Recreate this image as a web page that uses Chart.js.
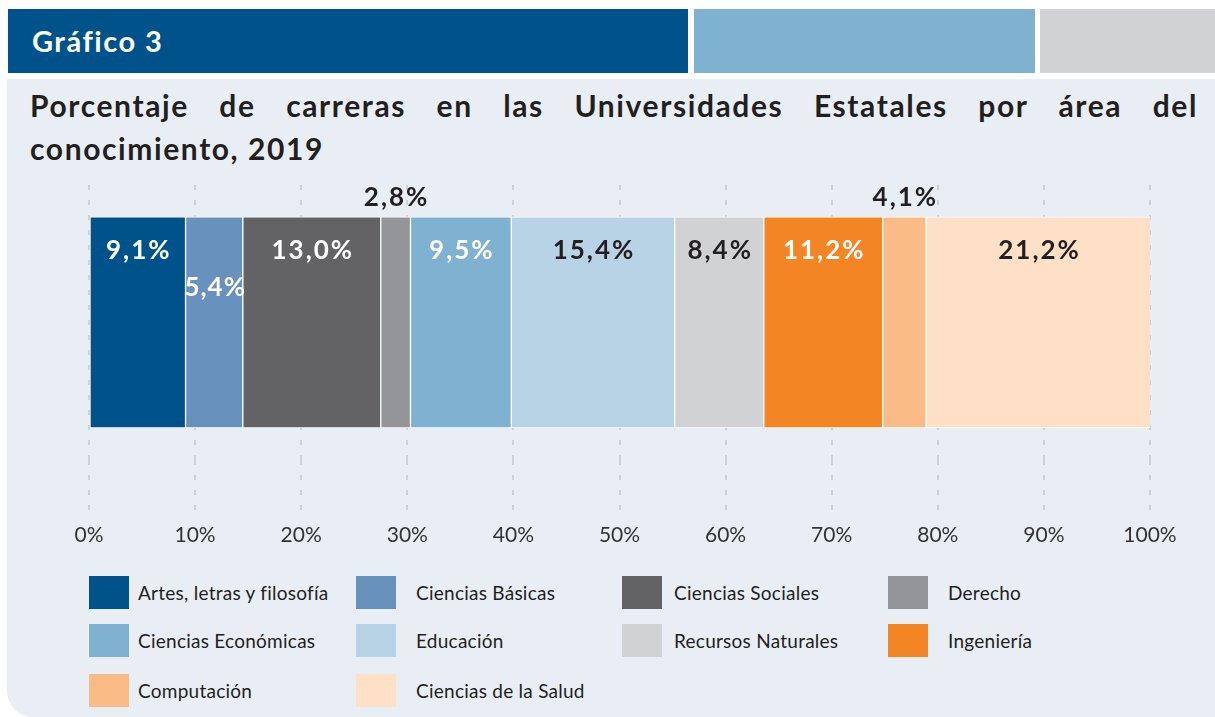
<!DOCTYPE html>
<html lang="es">
<head>
<meta charset="utf-8">
<script src="https://cdn.jsdelivr.net/npm/chart.js@4/dist/chart.umd.min.js"></script>
<style>
  html, body { margin:0; padding:0; background:#ffffff; width:1215px; height:717px; overflow:hidden; }
  body { position:relative; font-family: Lato, "Open Sans", sans-serif; color:#231f20; }
  .hdr { position:absolute; top:9px; height:64px; }
  #hdr1 { left:8px; width:680px; background:#00528a; }
  #hdr2 { left:694px; width:341px; background:#7fb1d0; }
  #hdr3 { left:1040px; width:175px; background:#d1d2d4; }
  #hdrText { position:absolute; left:32px; top:26px; font-weight:700; font-size:29px; line-height:29px; color:#fff; letter-spacing:1.5px; }
  #panel { position:absolute; left:7px; top:79px; width:1208px; height:638px; background:#e9eef5; border-bottom-left-radius:26px; }
  .title { position:absolute; left:30px; width:1168px; font-weight:700; font-size:30px; line-height:43px; color:#231f20; white-space:nowrap; letter-spacing:1.6px; }
  #t1 { top:84px; text-align:justify; text-align-last:justify; white-space:normal; }
  #t2 { top:127px; }
  #chartWrap { position:absolute; left:0; top:175px; }
  .sw { position:absolute; width:40px; height:33px; }
  .lt { position:absolute; font-size:19px; line-height:33px; color:#231f20; white-space:nowrap; letter-spacing:0.25px; }
</style>
</head>
<body>
<div id="hdr1" class="hdr"></div>
<div id="hdr2" class="hdr"></div>
<div id="hdr3" class="hdr"></div>
<div id="hdrText">Gráfico 3</div>
<div id="panel"></div>
<div id="t1" class="title">Porcentaje de carreras en las Universidades Estatales por área del</div>
<div id="t2" class="title">conocimiento, 2019</div>
<div id="chartWrap"><canvas id="c" width="1215" height="390"></canvas></div>
<div id="legend"></div>
<script>
// ---- data ----
const categories = ['2019'];
const areas = ['Artes, letras y filosofía', 'Ciencias Básicas', 'Ciencias Sociales', 'Derecho',
               'Ciencias Económicas', 'Educación', 'Recursos Naturales', 'Ingeniería',
               'Computación', 'Ciencias de la Salud'];
const percentages = [9.1, 5.4, 13.0, 2.8, 9.5, 15.4, 8.4, 11.2, 4.1, 21.2];
const tickValues = [0, 10, 20, 30, 40, 50, 60, 70, 80, 90, 100];

// ---- styles ----
const colors = ['#00528a', '#6892bd', '#636365', '#949598', '#7fb1d0',
                '#b8d3e5', '#d1d2d4', '#f38525', '#fbbb86', '#fee0c6'];
const labelColors = ['#ffffff', '#ffffff', '#ffffff', '#231f20', '#ffffff',
                     '#231f20', '#231f20', '#ffffff', '#231f20', '#231f20'];

const fmt = v => v.toFixed(1).replace('.', ',') + '%';

const barLabels = {
  id: 'barLabels',
  afterDatasetsDraw(chart, args, opts) {
    const ctx = chart.ctx;
    ctx.save();
    ctx.font = 'bold 26px Lato';
    ctx.textAlign = 'center';
    ctx.textBaseline = 'alphabetic';
    chart.data.datasets.forEach((ds, i) => {
      const bar = chart.getDatasetMeta(i).data[0];
      const p = bar.getProps(['x', 'base', 'y', 'height'], true);
      const top = p.y - p.height / 2;
      const cx = (p.x + p.base) / 2;
      const place = opts.placement[i] || 'inside';
      let ty = top + 42;
      try { ctx.letterSpacing = place === 'low' ? '1px' : '2px'; } catch (e) {}
      if (place === 'above') ty = top - 11;
      if (place === 'low') ty = top + 79;
      ctx.fillStyle = labelColors[i];
      ctx.fillText(fmt(ds.data[0]), cx + 1, ty);
    });
    ctx.restore();
  }
};

const datasets = areas.map((name, i) => ({
  label: name,
  data: [percentages[i]],
  backgroundColor: colors[i],
  borderColor: '#ffffff',
  borderWidth: 1,
  borderSkipped: false,
  barThickness: 211
}));

new Chart(document.getElementById('c'), {
  type: 'bar',
  data: { labels: categories, datasets },
  plugins: [barLabels],
  options: {
    indexAxis: 'y',
    responsive: false,
    animation: false,
    events: [],
    layout: { padding: { left: 89, right: 65, top: 10, bottom: 6 } },
    plugins: {
      legend: { display: false },
      tooltip: { enabled: false },
      title: { display: false },
      barLabels: { placement: { 1: 'low', 3: 'above', 8: 'above' } }
    },
    scales: {
      x: {
        type: 'linear',
        stacked: true,
        min: tickValues[0],
        max: tickValues[tickValues.length - 1],
        afterBuildTicks: axis => { axis.ticks = tickValues.map(v => ({ value: v })); },
        ticks: {
          callback: v => v + '%',
          color: '#333333',
          font: { family: 'Lato', size: 21 },
          padding: 11
        },
        grid: {
          color: '#cfd1d4',
          lineWidth: 2,
          drawTicks: true,
          tickLength: 52,
          tickColor: '#cfd1d4',
          tickWidth: 2,
          tickBorderDash: [5, 10]
        },
        border: { display: false, dash: [5, 10] }
      },
      y: {
        type: 'category',
        stacked: true,
        display: false
      }
    }
  }
});

// ---- legend (HTML, from the same arrays) ----
const legendCols = [89, 356, 622, 888];
const legendTextX = [138, 416, 674, 948];
const legendRows = [576, 624, 674];
const lg = document.getElementById('legend');
areas.forEach((name, i) => {
  const r = Math.floor(i / 4), c = i % 4;
  const sw = document.createElement('div');
  sw.className = 'sw';
  sw.style.left = legendCols[c] + 'px';
  sw.style.top = legendRows[r] + 'px';
  sw.style.background = colors[i];
  lg.appendChild(sw);
  const t = document.createElement('div');
  t.className = 'lt';
  t.style.left = legendTextX[c] + 'px';
  t.style.top = legendRows[r] + 'px';
  t.textContent = name;
  lg.appendChild(t);
});
</script>
</body>
</html>
